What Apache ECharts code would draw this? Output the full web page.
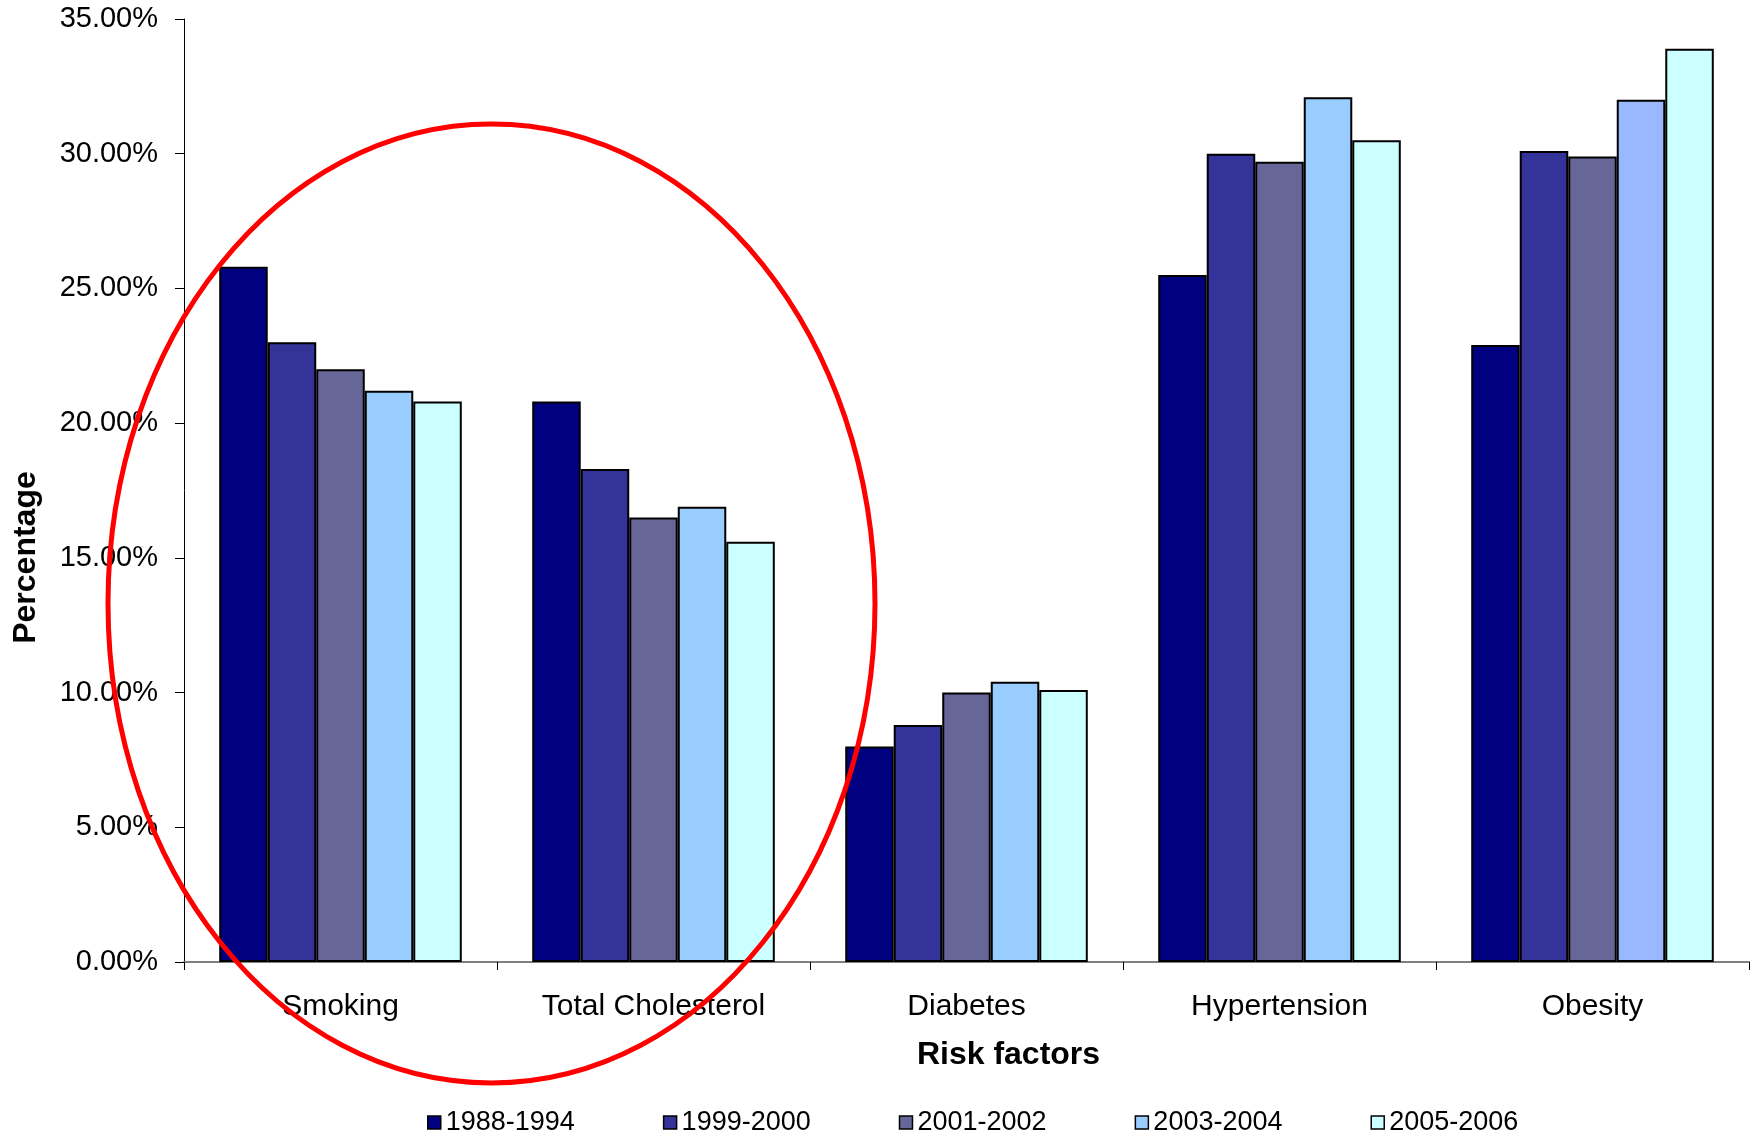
<!DOCTYPE html>
<html>
<head>
<meta charset="utf-8">
<script src="https://cdn.jsdelivr.net/npm/echarts@6/dist/echarts.min.js"></script>
<style>
html,body{margin:0;padding:0;background:#fff;}
#chart{width:1758px;height:1130px;}
</style>
</head>
<body>
<div id="chart"></div>
<script>
var categories = ['Smoking', 'Total Cholesterol', 'Diabetes', 'Hypertension', 'Obesity'];
var seriesNames = ['1988-1994', '1999-2000', '2001-2002', '2003-2004', '2005-2006'];
var v1988 = [25.8, 20.8, 8.0, 25.5, 22.9];
var v1999 = [23.0, 18.3, 8.8, 30.0, 30.1];
var v2001 = [22.0, 16.5, 10.0, 29.7, 29.9];
var v2003 = [21.2, 16.9, 10.4, 32.1, 32.0];
var v2005 = [20.8, 15.6, 10.1, 30.5, 33.9];
var yTicks = [0, 5, 10, 15, 20, 25, 30, 35];

var colors = ['#000080', '#333399', '#666699', '#99CCFF', '#CCFFFF'];
var allValues = [v1988, v1999, v2001, v2003, v2005];

var FONT = '"Liberation Sans", Arial, sans-serif';

var series = allValues.map(function (vals, i) {
  var data = vals.map(function (v, j) {
    if (i === 3 && j === 4) {
      return { value: v, itemStyle: { color: '#99B8FF' } };
    }
    return v;
  });
  return {
    name: seriesNames[i],
    type: 'bar',
    data: data,
    barGap: '0%',
    barCategoryGap: '22.5%',
    itemStyle: { color: colors[i], borderColor: '#000', borderWidth: 2 },
    emphasis: { disabled: true }
  };
});

var chart = echarts.init(document.getElementById('chart'), null, { renderer: 'canvas' });
chart.setOption({
  animation: false,
  backgroundColor: '#fff',
  textStyle: { fontFamily: FONT },
  grid: { left: 184, right: 9, top: 19, bottom: 168, containLabel: false },
  legend: {
    data: seriesNames,
    left: 422,
    top: 1104,
    itemWidth: 13,
    itemHeight: 13,
    itemGap: 88,
    icon: 'rect',
    textStyle: { fontFamily: FONT, fontSize: 27, color: '#000' },
    itemStyle: { borderColor: '#000', borderWidth: 1.5 }
  },
  xAxis: {
    type: 'category',
    data: categories,
    name: 'Risk factors',
    nameLocation: 'middle',
    nameGap: 77,
    nameTextStyle: { fontFamily: FONT, fontSize: 32, fontWeight: 'bold', color: '#000', padding: [0, 0, 0, 84] },
    axisLine: { lineStyle: { color: '#808080', width: 2 } },
    axisTick: { show: true, length: 8, lineStyle: { color: '#000', width: 1 } },
    axisLabel: { fontFamily: FONT, fontSize: 30, color: '#000', margin: 30, interval: 0 },
    splitLine: { show: false }
  },
  yAxis: {
    type: 'value',
    min: 0,
    max: 35,
    interval: 5,
    name: 'Percentage',
    nameLocation: 'middle',
    nameGap: 142,
    nameRotate: 90,
    nameTextStyle: { fontFamily: FONT, fontSize: 32, fontWeight: 'bold', color: '#000', padding: [0, 134, 0, 0] },
    axisLine: { show: true, lineStyle: { color: '#000', width: 1 } },
    axisTick: { show: true, length: 9, lineStyle: { color: '#000', width: 1 } },
    axisLabel: {
      fontFamily: FONT, fontSize: 29, color: '#000', margin: 26,
      formatter: function (v) { return v.toFixed(2) + '%'; }
    },
    splitLine: { show: false }
  },
  series: series,
  graphic: [{
    type: 'ellipse',
    shape: { cx: 491.5, cy: 603.5, rx: 383.5, ry: 479.5 },
    style: { fill: null, stroke: '#FF0000', lineWidth: 5 },
    z: 100,
    silent: true
  }]
});
</script>
</body>
</html>
